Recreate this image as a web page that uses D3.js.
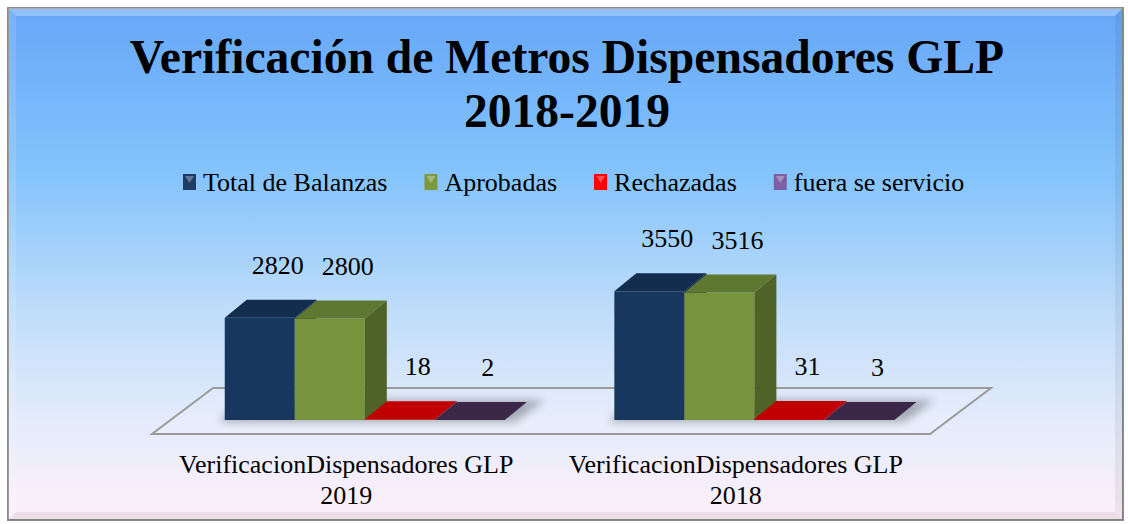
<!DOCTYPE html>
<html><head><meta charset="utf-8">
<script src="https://cdn.jsdelivr.net/npm/d3@7"></script>
<style>html,body{margin:0;padding:0;background:#fff;}svg{display:block;}</style>
</head><body>
<svg id="chart" width="1128" height="524"></svg>
<script>
// ---- data ----
const categories = ["2019", "2018"];
const categoryLines = [["VerificacionDispensadores GLP", "2019"], ["VerificacionDispensadores GLP", "2018"]];
const seriesNames = ["Total de Balanzas", "Aprobadas", "Rechazadas", "fuera se servicio"];
const totalBalanzas = [2820, 3550];
const aprobadas = [2800, 3516];
const rechazadas = [18, 31];
const fueraServicio = [2, 3];
const titleLines = ["Verificación de Metros Dispensadores GLP", "2018-2019"];

const seriesValues = [totalBalanzas, aprobadas, rechazadas, fueraServicio];
const frontColors = ["#17375e", "#77933c", "#c00000", "#3b2849"];
const topColors = ["#132d4e", "#5f7831", "#c00000", "#3b2849"];
const sideColors = ["#10294a", "#4f6228", "#a00000", "#2e1f3b"];
const legendColors = ["#1f3c66", "#7b9a3e", "#ff0000", "#7d5fa3"];

const W = 1128, H = 524;
const FONT = "'Liberation Serif','Times New Roman',serif";
const svg = d3.select("#chart");
const defs = svg.append("defs");

// background gradient
const bg = defs.append("linearGradient").attr("id", "bg").attr("x1", 0).attr("y1", 0).attr("x2", 0).attr("y2", 1);
[["0%", "#66a7f8"], ["33%", "#85c4fc"], ["58%", "#bddcfa"], ["80%", "#e3ebfb"], ["100%", "#fff0fa"]]
  .forEach(([o, c]) => bg.append("stop").attr("offset", o).attr("stop-color", c));

const blur = defs.append("filter").attr("id", "blur").attr("x", "-20%").attr("y", "-50%").attr("width", "140%").attr("height", "200%");
blur.append("feGaussianBlur").attr("stdDeviation", 4);

// chart area
const L = 8, T = 8, R = 1123, B = 520;
svg.append("rect").attr("x", L).attr("y", T).attr("width", R - L).attr("height", B - T)
  .attr("fill", "url(#bg)").attr("stroke", "#8c8c8c").attr("stroke-width", 2);
// bevel
const bv = 8;
svg.append("polygon").attr("points", `${L},${T} ${R},${T} ${R - bv},${T + bv} ${L + bv},${T + bv}`).attr("fill", "#ffffff").attr("opacity", 0.28);
svg.append("polygon").attr("points", `${L},${T} ${L + bv},${T + bv} ${L + bv},${B - bv} ${L},${B}`).attr("fill", "#ffffff").attr("opacity", 0.12);
svg.append("polygon").attr("points", `${R},${T} ${R},${B} ${R - bv},${B - bv} ${R - bv},${T + bv}`).attr("fill", "#000000").attr("opacity", 0.06);
svg.append("polygon").attr("points", `${L},${B} ${R},${B} ${R - bv},${B - bv} ${L + bv},${B - bv}`).attr("fill", "#000000").attr("opacity", 0.07);

// title
const title = svg.append("text").attr("text-anchor", "middle")
  .attr("font-family", FONT).attr("font-weight", "bold")
  .attr("font-size", 47.6).attr("fill", "#000");
titleLines.forEach((t, i) => title.append("tspan").attr("x", 567).attr("y", 73 + i * 54).text(t));

// legend
const legend = svg.append("g").attr("font-family", FONT).attr("font-size", 26);
let lx = 183;
seriesNames.forEach((name, i) => {
  const g = legend.append("g");
  g.append("rect").attr("x", lx).attr("y", 174).attr("width", 13).attr("height", 16).attr("fill", legendColors[i]);
  g.append("polygon").attr("points", `${lx + 2},${176} ${lx + 11},${176} ${lx + 6.5},${183}`).attr("fill", "#ffffff").attr("opacity", 0.3);
  const t = g.append("text").attr("x", lx + 20).attr("y", 191).attr("fill", "#000").text(name);
  lx += 20 + t.node().getComputedTextLength() + 37;
});

// scales
const x0 = d3.scaleBand().domain(categories).range([170.6, 948.6]).paddingInner(0.281).paddingOuter(0.139);
const x1 = d3.scaleBand().domain(seriesNames).range([0, x0.bandwidth()]).padding(0);
const y = d3.scaleLinear().domain([0, 4000]).range([420, 275]);

// depth projection
const bdx = 22, bdy = 18;          // bar depth
const fFront = 14, fBack = 14;     // floor extends beyond bar depth (in y)
const ratio = 61 / 46;             // floor x shift per y unit of depth
const base = y(0);
const [r0, r1] = x0.range();

// floor
const fy1 = base + fFront, fy2 = base - bdy - fBack;
const fxs1 = -fFront * ratio, fxs2 = (bdy + fBack) * ratio;
svg.append("polygon")
  .attr("points", `${r0 + fxs1},${fy1} ${r1 + fxs1},${fy1} ${r1 + fxs2},${fy2} ${r0 + fxs2},${fy2}`)
  .attr("fill", "#ffffff").attr("fill-opacity", 0.12).attr("stroke", "#9a9a9a").attr("stroke-width", 2);

// shadows
categories.forEach((c) => {
  const gx = x0(c);
  svg.append("polygon")
    .attr("points", `${gx - 6},${base + 2} ${gx + x0.bandwidth() + 10},${base + 2} ${gx + x0.bandwidth() + bdx + 18},${base - bdy - 2} ${gx + bdx - 6},${base - bdy - 2}`)
    .attr("fill", "#000").attr("opacity", 0.28).attr("filter", "url(#blur)");
});

// bars
const bars = svg.append("g");
categories.forEach((c, ci) => {
  seriesNames.forEach((s, si) => {
    const v = seriesValues[si][ci];
    const x = x0(c) + x1(s), w = x1.bandwidth();
    const top = y(v);
    const g = bars.append("g");
    g.append("rect").attr("x", x).attr("y", top).attr("width", w).attr("height", Math.max(0, base - top)).attr("fill", frontColors[si]);
    g.append("polygon").attr("points", `${x},${top} ${x + w},${top} ${x + w + bdx},${top - bdy} ${x + bdx},${top - bdy}`).attr("fill", topColors[si]);
    g.append("polygon").attr("points", `${x + w},${top} ${x + w + bdx},${top - bdy} ${x + w + bdx},${base - bdy} ${x + w},${base}`).attr("fill", sideColors[si]);
  });
});

// data labels
const labels = svg.append("g").attr("font-family", FONT).attr("font-size", 26).attr("fill", "#000").attr("text-anchor", "middle");
categories.forEach((c, ci) => {
  seriesNames.forEach((s, si) => {
    const v = seriesValues[si][ci];
    labels.append("text")
      .attr("x", x0(c) + x1(s) + x1.bandwidth() / 2 + 18)
      .attr("y", y(v) - 44)
      .text(v);
  });
});

// category labels
const cats = svg.append("g").attr("font-family", FONT).attr("font-size", 26).attr("fill", "#000").attr("text-anchor", "middle");
categories.forEach((c, ci) => {
  const cx = x0(c) + x0.bandwidth() / 2 + fxs1;
  const t = cats.append("text");
  categoryLines[ci].forEach((line, li) => t.append("tspan").attr("x", cx).attr("y", 473 + li * 31).text(line));
});
</script>
</body></html>
